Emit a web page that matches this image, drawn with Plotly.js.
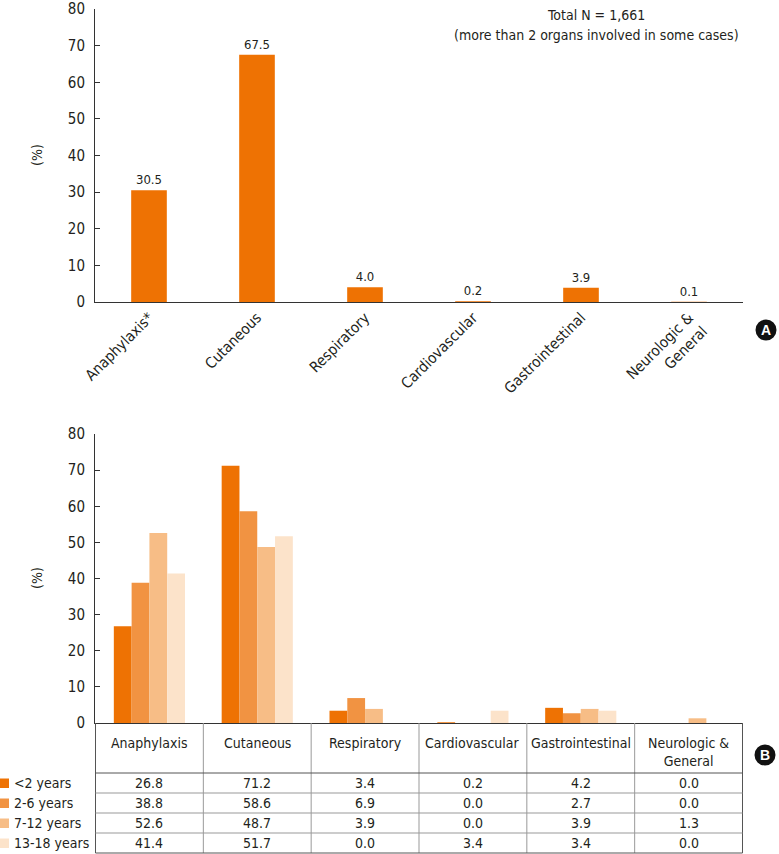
<!DOCTYPE html>
<html>
<head>
<meta charset="utf-8">
<script src="https://cdn.plot.ly/plotly-3.0.1.min.js"></script>
<style>html,body{margin:0;padding:0;background:#fff;}#chart{width:779px;height:854px;}</style>
</head>
<body>
<div id="chart"></div>
<script>
// ---- data ----
const categoriesA = ["Anaphylaxis*", "Cutaneous", "Respiratory", "Cardiovascular", "Gastrointestinal", "Neurologic &<br>General"];
const valuesA = [30.5, 67.5, 4.0, 0.2, 3.9, 0.1];

const categoriesB = ["Anaphylaxis", "Cutaneous", "Respiratory", "Cardiovascular", "Gastrointestinal", "Neurologic &<br>General"];
const ageGroups = ["<2 years", "2-6 years", "7-12 years", "13-18 years"];
const under2 = [26.8, 71.2, 3.4, 0.2, 4.2, 0.0];
const age2to6 = [38.8, 58.6, 6.9, 0.0, 2.7, 0.0];
const age7to12 = [52.6, 48.7, 3.9, 0.0, 3.9, 1.3];
const age13to18 = [41.4, 51.7, 0.0, 3.4, 3.4, 0.0];
const seriesB = [under2, age2to6, age7to12, age13to18];

const yTicks = [0, 10, 20, 30, 40, 50, 60, 70, 80];
const noteLines = ["Total N = 1,661", "(more than 2 organs involved in some cases)"];

// ---- styling ----
const colorA = "#EE7203";
const colorsB = ["#EE7203", "#F19342", "#F7BD86", "#FCE3CA"];
const FONT = "'Liberation Sans Narrow', 'DejaVu Sans Condensed', Roboto, 'Liberation Sans', sans-serif";
const TXT = "#231F20";
const W = 779, H = 854;
const px = x => x / W;
const py = y => 1 - y / H;

const traces = [];
traces.push({
  type: "bar", x: categoriesA, y: valuesA, xaxis: "x", yaxis: "y",
  width: 0.33, marker: { color: colorA }, showlegend: false,
  text: valuesA.map(v => v.toFixed(1)), textposition: "outside",
  textfont: { family: FONT, size: 13, color: TXT }, cliponaxis: false, hoverinfo: "x+y"
});
seriesB.forEach((s, i) => {
  traces.push({
    type: "bar", name: ageGroups[i], x: categoriesB, y: s, xaxis: "x2", yaxis: "y2",
    marker: { color: colorsB[i] }, showlegend: false
  });
});

const annotations = [];
const shapes = [];

// note text in panel A
annotations.push({ xref: "paper", yref: "paper", x: px(596), y: py(15), text: noteLines[0], showarrow: false,
  font: { family: FONT, size: 14, color: TXT }, xanchor: "center", yanchor: "middle" });
annotations.push({ xref: "paper", yref: "paper", x: px(596), y: py(35), text: noteLines[1], showarrow: false,
  font: { family: FONT, size: 14, color: TXT }, xanchor: "center", yanchor: "middle" });

// (%) titles
[155, 578].forEach(yy => {
  annotations.push({ xref: "paper", yref: "paper", x: px(37), y: py(yy), text: "(%)", textangle: -90, showarrow: false,
    font: { family: FONT, size: 14, color: TXT }, xanchor: "center", yanchor: "middle" });
});

// badges
[["A", 766, 330], ["B", 765, 755]].forEach(([t, cx, cy]) => {
  const r = 10.5;
  shapes.push({ type: "circle", xref: "paper", yref: "paper", x0: px(cx - r), x1: px(cx + r), y0: py(cy + r), y1: py(cy - r),
    fillcolor: "#111", line: { width: 0 } });
  annotations.push({ xref: "paper", yref: "paper", x: px(cx), y: py(cy), text: "<b>" + t + "</b>", showarrow: false,
    font: { family: "'Liberation Sans', Arial, sans-serif", size: 14, color: "#fff" }, xanchor: "center", yanchor: "middle" });
});

// table under panel B
const tTop = 723, hdrBottom = 773, rowH = 20;
const tBottom = hdrBottom + rowH * ageGroups.length;
const lineDark = "#555", lineLight = "#999";
for (let i = 0; i <= categoriesB.length; i++) {
  const outer = (i === 0 || i === categoriesB.length);
  shapes.push({ type: "line", xref: "x2", yref: "paper", x0: i - 0.5, x1: i - 0.5, y0: py(tTop), y1: py(tBottom),
    line: { color: outer ? lineDark : lineLight, width: 1 } });
}
for (let r = 0; r <= ageGroups.length; r++) {
  const yy = hdrBottom + r * rowH;
  shapes.push({ type: "line", xref: "x2", yref: "paper", x0: -0.5, x1: categoriesB.length - 0.5, y0: py(yy), y1: py(yy),
    line: { color: (r === 0 || r === ageGroups.length) ? lineDark : lineLight, width: 1 } });
}
categoriesB.forEach((c, i) => {
  annotations.push({ xref: "x2", yref: "paper", x: i, y: py(733), text: c, showarrow: false, align: "center",
    font: { family: FONT, size: 14, color: TXT }, xanchor: "center", yanchor: "top" });
});
seriesB.forEach((s, r) => {
  const cy = hdrBottom + r * rowH + rowH / 2;
  s.forEach((v, i) => {
    annotations.push({ xref: "x2", yref: "paper", x: i, y: py(cy), text: v.toFixed(1), showarrow: false,
      font: { family: FONT, size: 14, color: TXT }, xanchor: "center", yanchor: "middle" });
  });
  shapes.push({ type: "rect", xref: "paper", yref: "paper", x0: px(0), x1: px(9), y0: py(cy + 5), y1: py(cy - 4.5),
    fillcolor: colorsB[r], line: { width: 0 } });
  annotations.push({ xref: "paper", yref: "paper", x: px(12), y: py(cy), text: ageGroups[r].replace("<", "&lt;"), showarrow: false,
    font: { family: FONT, size: 14, color: TXT }, xanchor: "left", yanchor: "middle" });
});

const axisCommon = { showline: true, linecolor: "#333", linewidth: 1, showgrid: false, zeroline: false };
const layout = {
  width: W, height: H, margin: { l: 0, r: 0, t: 0, b: 0 }, paper_bgcolor: "#fff", plot_bgcolor: "#fff",
  font: { family: FONT, color: TXT }, showlegend: false,
  barmode: "group", bargap: 0.34, bargroupgap: 0,
  xaxis: Object.assign({}, axisCommon, { domain: [px(95), px(743)], anchor: "y", type: "category", tickangle: -45,
    ticks: "", tickfont: { family: FONT, size: 15, color: TXT } }),
  yaxis: Object.assign({}, axisCommon, { domain: [py(302), py(9)], anchor: "x", range: [0, 80], tickvals: yTicks,
    ticks: "inside", ticklen: 5, tickcolor: "#333", ticklabelstandoff: 6, tickfont: { family: FONT, size: 15, color: TXT } }),
  xaxis2: Object.assign({}, axisCommon, { domain: [px(95), px(743)], anchor: "y2", type: "category", showticklabels: false, ticks: "" }),
  yaxis2: Object.assign({}, axisCommon, { domain: [py(723), py(434)], anchor: "x2", range: [0, 80], tickvals: yTicks,
    ticks: "inside", ticklen: 5, tickcolor: "#333", ticklabelstandoff: 6, tickfont: { family: FONT, size: 15, color: TXT } }),
  annotations: annotations, shapes: shapes
};

Plotly.newPlot("chart", traces, layout, { displayModeBar: false, staticPlot: true });
</script>
</body>
</html>
